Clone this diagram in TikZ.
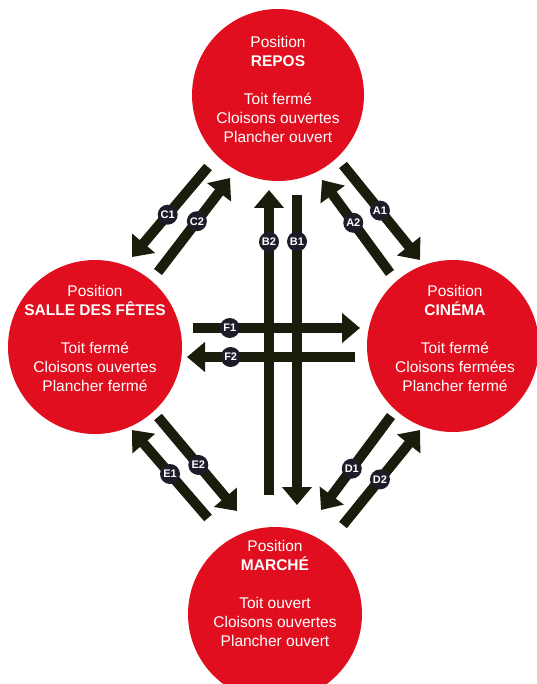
\documentclass[tikz,border=0pt]{standalone}
\usepackage{fontspec}
\setmainfont{Liberation Sans}
\usetikzlibrary{arrows.meta}
\definecolor{posred}{RGB}{224,14,30}
\definecolor{arrowcol}{RGB}{28,28,12}
\definecolor{lblcol}{RGB}{30,28,40}
\tikzset{
  pos circle/.style={circle, fill=posred, minimum size=#1, inner sep=0pt},
  pos text/.style={text=white, align=center, font=\fontsize{15.5}{19}\selectfont, inner sep=0pt},
  arr/.style={draw=arrowcol, line width=10pt, -{Triangle[width=29pt,length=18pt]}},
  lbl/.style={circle, fill=lblcol, text=white, minimum size=20pt, inner sep=0pt, font=\fontsize{11}{11}\selectfont\bfseries},
}
\begin{document}
\begin{tikzpicture}[x=1pt,y=-1pt]
\clip (0,0) rectangle (537,684);
\fill[white] (0,0) rectangle (537,684);
% circles
\node[pos circle=172pt] (repos) at (278,95) {};
\node[pos circle=174pt] (salle) at (95,347) {};
\node[pos circle=172pt] (cinema) at (453,346) {};
\node[pos circle=174pt] (marche) at (275,614) {};
% texts
\node[pos text] (treposs) at (278,89.5) {Position\\\textbf{REPOS}\\[19pt]Toit fermé\\Cloisons ouvertes\\Plancher ouvert};
\node[pos text] (tsalle) at (95,338.5) {Position\\\textbf{SALLE DES FÊTES}\\[19pt]Toit fermé\\Cloisons ouvertes\\Plancher fermé};
\node[pos text] (tcinema) at (455,338.5) {Position\\\textbf{CINÉMA}\\[19pt]Toit fermé\\Cloisons fermées\\Plancher fermé};
\node[pos text] (tmarche) at (275,593.5) {Position\\\textbf{MARCHÉ}\\[19pt]Toit ouvert\\Cloisons ouvertes\\Plancher ouvert};
% arrow end points
\coordinate (c1s) at (208,167); \coordinate (c1e) at (132,257);
\coordinate (c2s) at (158,272); \coordinate (c2e) at (230,178);
\coordinate (a1s) at (343,165); \coordinate (a1e) at (420,260);
\coordinate (a2s) at (390,273); \coordinate (a2e) at (322,180);
\coordinate (b1s) at (297,195); \coordinate (b1e) at (297,505);
\coordinate (b2s) at (269,495); \coordinate (b2e) at (269,190);
\coordinate (f1s) at (193,328); \coordinate (f1e) at (360,328);
\coordinate (f2s) at (355,357); \coordinate (f2e) at (187,357);
\coordinate (e2s) at (158,417); \coordinate (e2e) at (237,511);
\coordinate (e1s) at (208,518); \coordinate (e1e) at (132,430);
\coordinate (d1s) at (391,416); \coordinate (d1e) at (321,510);
\coordinate (d2s) at (343,525); \coordinate (d2e) at (420,430);
% arrows
\draw[arr] (b1s) -- (b1e) node[lbl,pos=0.15] {B1};
\draw[arr] (b2s) -- (b2e) node[lbl,pos=0.83] {B2};
\draw[arr] (f1s) -- (f1e) node[lbl,pos=0.22] {F1};
\draw[arr] (f2s) -- (f2e) node[lbl,pos=0.74] {F2};
\draw[arr] (c1s) -- (c1e) node[lbl,pos=0.53] {C1};
\draw[arr] (c2s) -- (c2e) node[lbl,pos=0.54] {C2};
\draw[arr] (a1s) -- (a1e) node[lbl,pos=0.48] {A1};
\draw[arr] (a2s) -- (a2e) node[lbl,pos=0.54] {A2};
\draw[arr] (e2s) -- (e2e) node[lbl,pos=0.51] {E2};
\draw[arr] (e1s) -- (e1e) node[lbl,pos=0.5] {E1};
\draw[arr] (d1s) -- (d1e) node[lbl,pos=0.56] {D1};
\draw[arr] (d2s) -- (d2e) node[lbl,pos=0.48] {D2};
\end{tikzpicture}
\end{document}
